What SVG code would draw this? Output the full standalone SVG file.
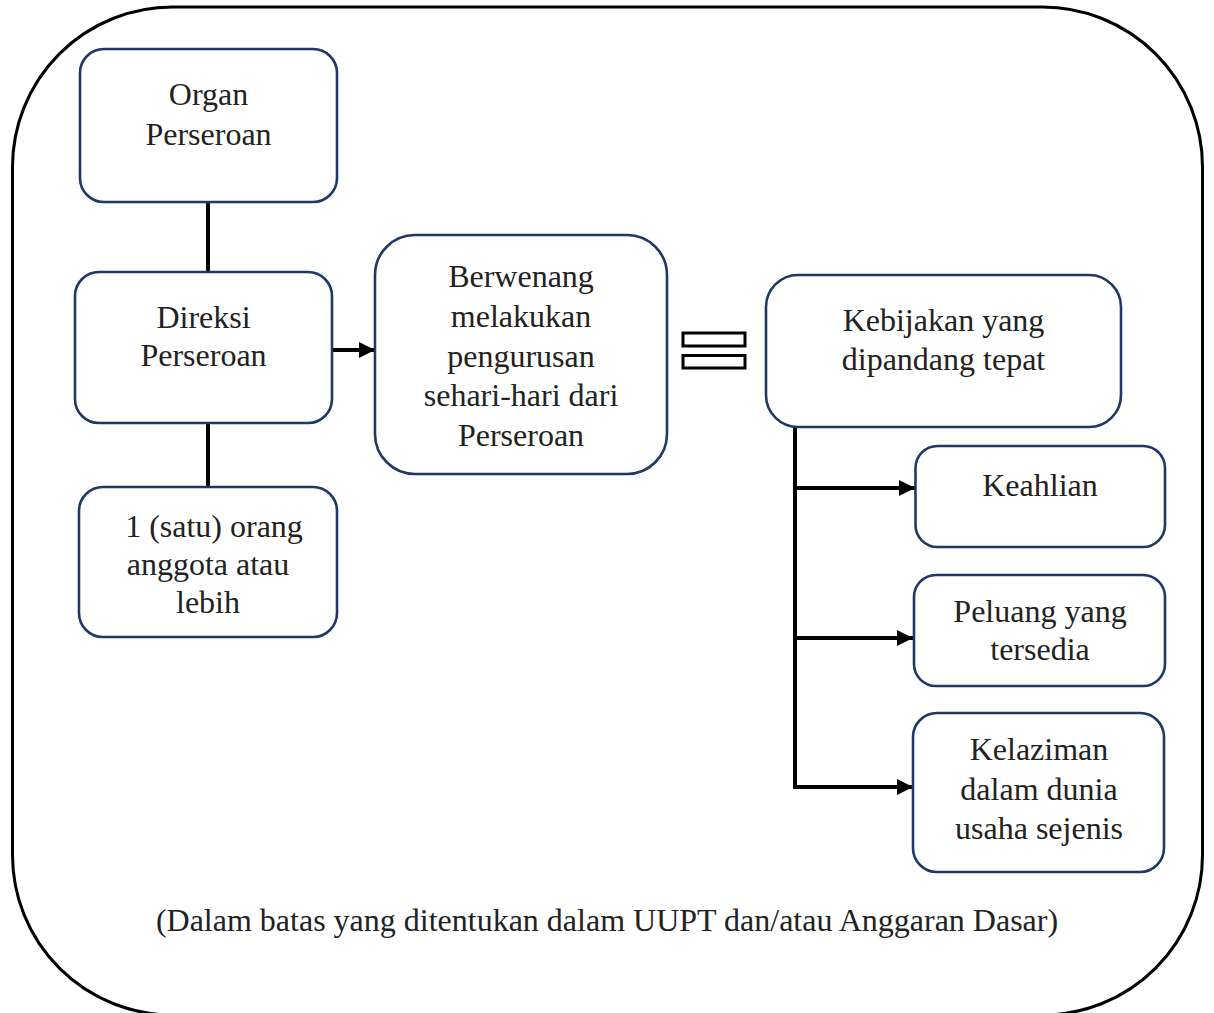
<svg xmlns="http://www.w3.org/2000/svg" width="1214" height="1013" viewBox="0 0 1214 1013">
  <defs>
    <style>
      .frame { fill: none; stroke: #000; stroke-width: 3; }
      .box { fill: #fff; stroke: #1f3864; stroke-width: 2.6; }
      .lbl { font-family: "Liberation Serif", "Times New Roman", serif; font-size: 32px; fill: #222; text-anchor: middle; }
      .wire { fill: none; stroke: #000; stroke-width: 4; }
      .eq { fill: #fff; stroke: #000; stroke-width: 3; }
    </style>
    <marker id="arrow" markerUnits="userSpaceOnUse" markerWidth="16" markerHeight="16" refX="16" refY="8" orient="auto">
      <path d="M0,0 L16,8 L0,16 Z" fill="#000"/>
    </marker>
  </defs>

  <rect width="1214" height="1013" fill="#fff"/>

  <!-- outer boundary -->
  <rect class="frame" x="12.5" y="7" width="1190" height="1008" rx="160" ry="160"/>

  <!-- connectors -->
  <g id="connectors">
    <line class="wire" x1="208" y1="202" x2="208" y2="272"/>
    <line class="wire" x1="208" y1="423" x2="208" y2="487"/>
    <line class="wire" x1="332" y1="350" x2="375" y2="350" marker-end="url(#arrow)"/>
    <line class="wire" x1="795" y1="427" x2="795" y2="789"/>
    <line class="wire" x1="793" y1="488" x2="915" y2="488" marker-end="url(#arrow)"/>
    <line class="wire" x1="793" y1="638" x2="913" y2="638" marker-end="url(#arrow)"/>
    <line class="wire" x1="793" y1="787" x2="913" y2="787" marker-end="url(#arrow)"/>
  </g>

  <g id="organ">
    <rect class="box" x="80" y="49" width="257" height="153" rx="24"/>
    <text class="lbl" x="208.5" y="105">Organ</text>
    <text class="lbl" x="208.5" y="145">Perseroan</text>
  </g>

  <g id="direksi">
    <rect class="box" x="75" y="272" width="257" height="151" rx="24"/>
    <text class="lbl" x="203.5" y="328">Direksi</text>
    <text class="lbl" x="203.5" y="366">Perseroan</text>
  </g>

  <g id="anggota">
    <rect class="box" x="79" y="487" width="258" height="150" rx="24"/>
    <text class="lbl" x="214" y="537">1 (satu) orang</text>
    <text class="lbl" x="208" y="575">anggota atau</text>
    <text class="lbl" x="208" y="613">lebih</text>
  </g>

  <g id="berwenang">
    <rect class="box" x="375" y="235" width="292" height="239" rx="40"/>
    <text class="lbl" x="521" y="287">Berwenang</text>
    <text class="lbl" x="521" y="327">melakukan</text>
    <text class="lbl" x="521" y="367">pengurusan</text>
    <text class="lbl" x="521" y="406">sehari-hari dari</text>
    <text class="lbl" x="521" y="446">Perseroan</text>
  </g>

  <g id="equals">
    <rect class="eq" x="683" y="333" width="62" height="13"/>
    <rect class="eq" x="683" y="355.5" width="62" height="12.5"/>
  </g>

  <g id="kebijakan">
    <rect class="box" x="766" y="275" width="355" height="152" rx="32"/>
    <text class="lbl" x="943.5" y="331">Kebijakan yang</text>
    <text class="lbl" x="943.5" y="370">dipandang tepat</text>
  </g>

  <g id="keahlian">
    <rect class="box" x="915.5" y="446" width="249.5" height="101" rx="22"/>
    <text class="lbl" x="1040" y="496">Keahlian</text>
  </g>

  <g id="peluang">
    <rect class="box" x="914" y="575" width="251" height="111" rx="22"/>
    <text class="lbl" x="1040" y="622">Peluang yang</text>
    <text class="lbl" x="1040" y="660">tersedia</text>
  </g>

  <g id="kelaziman">
    <rect class="box" x="913" y="713" width="251" height="159" rx="24"/>
    <text class="lbl" x="1039" y="760">Kelaziman</text>
    <text class="lbl" x="1039" y="800">dalam dunia</text>
    <text class="lbl" x="1039" y="839">usaha sejenis</text>
  </g>

  <text class="lbl" x="607" y="931">(Dalam batas yang ditentukan dalam UUPT dan/atau Anggaran Dasar)</text>
</svg>
